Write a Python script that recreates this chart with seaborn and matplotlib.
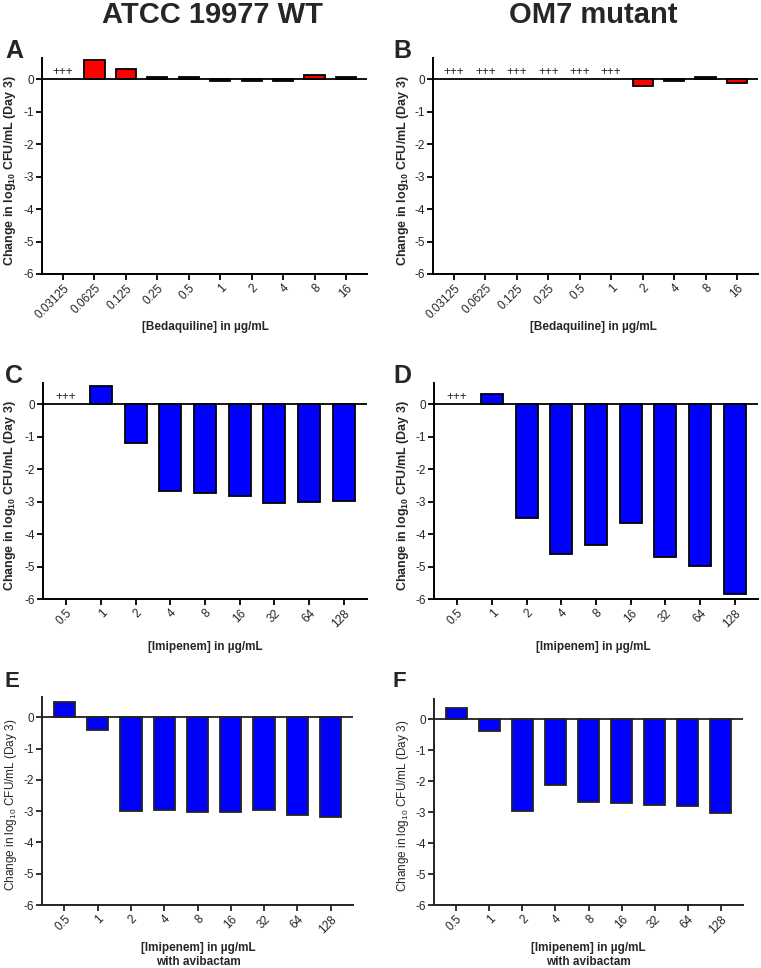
import numpy as np
import pandas as pd
import matplotlib
matplotlib.use("Agg")
import matplotlib.pyplot as plt
import seaborn as sns

sns.set_theme(style="ticks")
plt.rcParams['font.family'] = ['Liberation Sans', 'DejaVu Sans']
plt.rcParams['mathtext.default'] = 'regular'
plt.rcParams['axes.unicode_minus'] = False

nan = np.nan
bdq_labels = ["0.03125", "0.0625", "0.125", "0.25", "0.5", "1", "2", "4", "8", "16"]
imi_labels = ["0.5", "1", "2", "4", "8", "16", "32", "64", "128"]

vals_A = [nan, 0.60, 0.30, 0.05, 0.05, -0.07, -0.07, -0.07, 0.12, 0.05]
vals_B = [nan, nan, nan, nan, nan, nan, -0.20, -0.07, 0.05, -0.13]
vals_C = [nan, 0.56, -1.21, -2.67, -2.75, -2.83, -3.03, -3.00, -2.98]
vals_D = [nan, 0.30, -3.51, -4.62, -4.35, -3.66, -4.72, -4.99, -5.84]
vals_E = [0.50, -0.40, -3.01, -2.95, -3.04, -3.04, -2.96, -3.13, -3.18]
vals_F = [0.37, -0.38, -2.96, -2.12, -2.68, -2.72, -2.78, -2.81, -3.04]

growth_A = [0]
growth_B = [0, 1, 2, 3, 4, 5]
growth_C = [0]
growth_D = [0]

col_titles = ["ATCC 19977 WT", "OM7 mutant"]
ylabel = r"Change in log$_{10}$ CFU/mL (Day 3)"
xlab_bdq = "[Bedaquiline] in µg/mL"
xlab_imi = "[Imipenem] in µg/mL"
xlab_imi_avi = "[Imipenem] in µg/mL\nwith avibactam"

W, H = 761, 968
fig = plt.figure(figsize=(W / 100, H / 100), dpi=100)


def add_ax(left, right, top, bottom):
    return fig.add_axes([left / W, 1 - bottom / H, (right - left) / W, (bottom - top) / H])


panels = [
    ("A", bdq_labels, vals_A, growth_A, "#FF0000", "black", (42, 367, 58, 274), xlab_bdq, (205, 327), (5, 58), 18, True, "black"),
    ("B", bdq_labels, vals_B, growth_B, "#FF0000", "black", (433, 758, 58, 274), xlab_bdq, (593, 327), (393, 58), 411, True, "black"),
    ("C", imi_labels, vals_C, growth_C, "#0000FF", "black", (43, 367, 383, 599), xlab_imi, (205, 647), (5, 383), 18, True, "black"),
    ("D", imi_labels, vals_D, growth_D, "#0000FF", "black", (434, 758, 383, 599), xlab_imi, (593, 647), (393, 383), 411, True, "black"),
    ("E", imi_labels, vals_E, [], "#0000FF", "#222222", (42, 353, 697, 905), xlab_imi_avi, (198, 955), (5, 687), 19, False, "#222222"),
    ("F", imi_labels, vals_F, [], "#0000FF", "#222222", (434, 743, 699, 905), xlab_imi_avi, (588, 955), (393, 687), 411, False, "#222222"),
]

for (letter, labels, vals, growth, color, edge, box, xlab, xlc, lp, ylx,
     bold, axcol) in panels:
    ax = add_ax(*box)
    df = pd.DataFrame({"conc": labels, "val": vals})
    sns.barplot(data=df, x="conc", y="val", order=labels, color=color,
                saturation=1, edgecolor=edge, linewidth=1.3, width=0.64,
                errorbar=None, ax=ax)
    n = len(labels)
    ax.set_xlim(-0.67, n - 1 + 0.67)
    ax.set_ylim(-6, 0.65)
    ax.set_yticks(range(-6, 1))
    ax.axhline(0, color=axcol, lw=1.3, zorder=3)
    for i in growth:
        ax.text(i, 0.03, "+++", ha="center", va="bottom", fontsize=8.5)
    sns.despine(ax=ax)
    for s in ("left", "bottom"):
        ax.spines[s].set_linewidth(1.4)
        ax.spines[s].set_color(axcol)
    ax.tick_params(axis="both", length=4, width=1.3, labelsize=8.5,
                   color=axcol, pad=2)
    ax.set_xticks(range(n))
    ax.set_xticklabels(labels, rotation=45, ha="right", rotation_mode="anchor")
    ax.set_xlabel("")
    ax.set_ylabel(ylabel, fontsize=9 if bold else 8.5,
                  fontweight="bold" if bold else "normal")
    ax.yaxis.set_label_coords((ylx - box[0]) / (box[1] - box[0]), 0.48)
    fig.text(xlc[0] / W, 1 - xlc[1] / H, xlab, ha="center", va="center",
             fontsize=8.5, fontweight="bold", linespacing=1.2)
    fig.text(lp[0] / W, 1 - lp[1] / H, letter, ha="left", va="baseline",
             fontsize=18 if bold else 16, fontweight="bold")

fig.text(213 / W, 1 - 23 / H, col_titles[0], ha="center", va="baseline",
         fontsize=21, fontweight="bold")
fig.text(593 / W, 1 - 23 / H, col_titles[1], ha="center", va="baseline",
         fontsize=21, fontweight="bold")

fig.savefig("out.png", dpi=100, facecolor="white")
